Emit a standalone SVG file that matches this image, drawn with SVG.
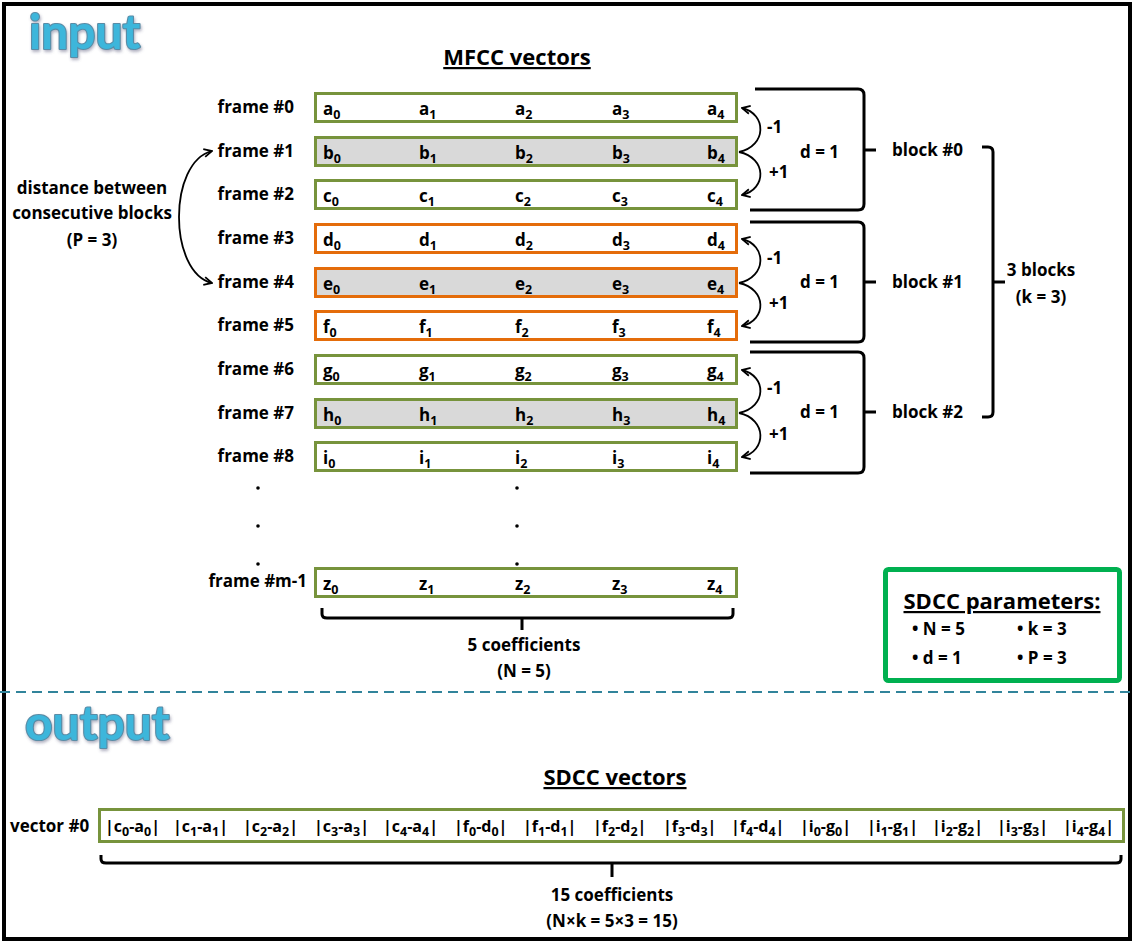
<svg xmlns="http://www.w3.org/2000/svg" width="1134" height="945" viewBox="0 0 1134 945">
<style>
text{font-family:"Open Sans","Noto Sans","Liberation Sans",sans-serif;font-weight:bold;fill:#000}
.lbl{font-size:17px}
.vec{font-size:16px}
.cell{font-size:17px}
.sub{font-size:12.5px}
.title{font-size:22px;text-decoration:underline}
.big{font-family:Lato,"Open Sans",sans-serif;font-size:48px;fill:#3DB6DB;stroke:#5A8CA6;stroke-width:2.2;paint-order:stroke;stroke-linejoin:round}
.g{fill:#fff;stroke:#77933C;stroke-width:3}
.o{fill:#fff;stroke:#E46C0A;stroke-width:3}
.gray{fill:#D9D9D9}
.br{fill:none;stroke:#000;stroke-width:3;stroke-linejoin:round}
.arr{fill:none;stroke:#000;stroke-width:1.8}
</style>
<defs>
<marker id="chev" viewBox="0 0 10 10" refX="9" refY="5" markerWidth="10" markerHeight="10" markerUnits="userSpaceOnUse" orient="auto-start-reverse">
<path d="M1,1 L9,5 L1,9" fill="none" stroke="#000" stroke-width="1.8"/>
</marker>
<filter id="sh" x="-10%" y="-10%" width="130%" height="140%"><feDropShadow dx="1" dy="2" stdDeviation="1.5" flood-color="#557" flood-opacity="0.45"/></filter>
</defs>
<rect x="0" y="0" width="1134" height="945" fill="#fff"/>
<rect x="4" y="4" width="1126" height="935" fill="none" stroke="#000" stroke-width="4"/>

<g id="titles">
<text class="big" x="29" y="49" filter="url(#sh)">input</text>
<text class="big" x="25" y="740" filter="url(#sh)">output</text>
<text class="title" x="517" y="65" text-anchor="middle">MFCC vectors</text>
<text class="title" x="615" y="785" text-anchor="middle">SDCC vectors</text>
</g>

<g id="frame0"><text class="lbl" x="294" y="113" text-anchor="end">frame #0</text><rect class="g" x="315.5" y="93.5" width="421" height="28"/>
<text class="cell" x="323" y="115">a<tspan class="sub" dy="4">0</tspan></text><text class="cell" x="419" y="115">a<tspan class="sub" dy="4">1</tspan></text><text class="cell" x="515" y="115">a<tspan class="sub" dy="4">2</tspan></text><text class="cell" x="612" y="115">a<tspan class="sub" dy="4">3</tspan></text><text class="cell" x="707" y="115">a<tspan class="sub" dy="4">4</tspan></text></g>
<g id="frame1"><text class="lbl" x="294" y="157" text-anchor="end">frame #1</text><rect class="g gray" x="315.5" y="137.5" width="421" height="28"/>
<text class="cell" x="323" y="159">b<tspan class="sub" dy="4">0</tspan></text><text class="cell" x="419" y="159">b<tspan class="sub" dy="4">1</tspan></text><text class="cell" x="515" y="159">b<tspan class="sub" dy="4">2</tspan></text><text class="cell" x="612" y="159">b<tspan class="sub" dy="4">3</tspan></text><text class="cell" x="707" y="159">b<tspan class="sub" dy="4">4</tspan></text></g>
<g id="frame2"><text class="lbl" x="294" y="200" text-anchor="end">frame #2</text><rect class="g" x="315.5" y="180.5" width="421" height="28"/>
<text class="cell" x="323" y="202">c<tspan class="sub" dy="4">0</tspan></text><text class="cell" x="419" y="202">c<tspan class="sub" dy="4">1</tspan></text><text class="cell" x="515" y="202">c<tspan class="sub" dy="4">2</tspan></text><text class="cell" x="612" y="202">c<tspan class="sub" dy="4">3</tspan></text><text class="cell" x="707" y="202">c<tspan class="sub" dy="4">4</tspan></text></g>
<g id="frame3"><text class="lbl" x="294" y="244" text-anchor="end">frame #3</text><rect class="o" x="315.5" y="224.5" width="421" height="28"/>
<text class="cell" x="323" y="246">d<tspan class="sub" dy="4">0</tspan></text><text class="cell" x="419" y="246">d<tspan class="sub" dy="4">1</tspan></text><text class="cell" x="515" y="246">d<tspan class="sub" dy="4">2</tspan></text><text class="cell" x="612" y="246">d<tspan class="sub" dy="4">3</tspan></text><text class="cell" x="707" y="246">d<tspan class="sub" dy="4">4</tspan></text></g>
<g id="frame4"><text class="lbl" x="294" y="288" text-anchor="end">frame #4</text><rect class="o gray" x="315.5" y="268.5" width="421" height="28"/>
<text class="cell" x="323" y="290">e<tspan class="sub" dy="4">0</tspan></text><text class="cell" x="419" y="290">e<tspan class="sub" dy="4">1</tspan></text><text class="cell" x="515" y="290">e<tspan class="sub" dy="4">2</tspan></text><text class="cell" x="612" y="290">e<tspan class="sub" dy="4">3</tspan></text><text class="cell" x="707" y="290">e<tspan class="sub" dy="4">4</tspan></text></g>
<g id="frame5"><text class="lbl" x="294" y="331" text-anchor="end">frame #5</text><rect class="o" x="315.5" y="311.5" width="421" height="28"/>
<text class="cell" x="323" y="333">f<tspan class="sub" dy="4">0</tspan></text><text class="cell" x="419" y="333">f<tspan class="sub" dy="4">1</tspan></text><text class="cell" x="515" y="333">f<tspan class="sub" dy="4">2</tspan></text><text class="cell" x="612" y="333">f<tspan class="sub" dy="4">3</tspan></text><text class="cell" x="707" y="333">f<tspan class="sub" dy="4">4</tspan></text></g>
<g id="frame6"><text class="lbl" x="294" y="375" text-anchor="end">frame #6</text><rect class="g" x="315.5" y="355.5" width="421" height="28"/>
<text class="cell" x="323" y="377">g<tspan class="sub" dy="4">0</tspan></text><text class="cell" x="419" y="377">g<tspan class="sub" dy="4">1</tspan></text><text class="cell" x="515" y="377">g<tspan class="sub" dy="4">2</tspan></text><text class="cell" x="612" y="377">g<tspan class="sub" dy="4">3</tspan></text><text class="cell" x="707" y="377">g<tspan class="sub" dy="4">4</tspan></text></g>
<g id="frame7"><text class="lbl" x="294" y="419" text-anchor="end">frame #7</text><rect class="g gray" x="315.5" y="399.5" width="421" height="28"/>
<text class="cell" x="323" y="421">h<tspan class="sub" dy="4">0</tspan></text><text class="cell" x="419" y="421">h<tspan class="sub" dy="4">1</tspan></text><text class="cell" x="515" y="421">h<tspan class="sub" dy="4">2</tspan></text><text class="cell" x="612" y="421">h<tspan class="sub" dy="4">3</tspan></text><text class="cell" x="707" y="421">h<tspan class="sub" dy="4">4</tspan></text></g>
<g id="frame8"><text class="lbl" x="294" y="462" text-anchor="end">frame #8</text><rect class="g" x="315.5" y="442.5" width="421" height="28"/>
<text class="cell" x="323" y="464">i<tspan class="sub" dy="4">0</tspan></text><text class="cell" x="419" y="464">i<tspan class="sub" dy="4">1</tspan></text><text class="cell" x="515" y="464">i<tspan class="sub" dy="4">2</tspan></text><text class="cell" x="612" y="464">i<tspan class="sub" dy="4">3</tspan></text><text class="cell" x="707" y="464">i<tspan class="sub" dy="4">4</tspan></text></g>
<g id="dots">
<circle cx="258" cy="488" r="1.8"/><circle cx="258" cy="526" r="1.8"/><circle cx="258" cy="564" r="1.8"/>
<circle cx="517" cy="488" r="1.8"/><circle cx="517" cy="526" r="1.8"/><circle cx="517" cy="564" r="1.8"/>
</g>
<g id="framem1"><text class="lbl" x="307" y="587" text-anchor="end">frame #m-1</text><rect class="g" x="315.5" y="568.5" width="421" height="28"/>
<text class="cell" x="323" y="590">z<tspan class="sub" dy="4">0</tspan></text><text class="cell" x="419" y="590">z<tspan class="sub" dy="4">1</tspan></text><text class="cell" x="515" y="590">z<tspan class="sub" dy="4">2</tspan></text><text class="cell" x="612" y="590">z<tspan class="sub" dy="4">3</tspan></text><text class="cell" x="707" y="590">z<tspan class="sub" dy="4">4</tspan></text></g>

<g id="connectors">
<path class="arr" d="M739,152 C767,146 767,114 742,108" marker-end="url(#chev)"/>
<path class="arr" d="M739,152 C767,158 767,189 742,195" marker-end="url(#chev)"/>
<path class="arr" d="M739,283 C767,277 767,245 742,239" marker-end="url(#chev)"/>
<path class="arr" d="M739,283 C767,289 767,320 742,326" marker-end="url(#chev)"/>
<path class="arr" d="M739,413 C767,407 767,376 742,370" marker-end="url(#chev)"/>
<path class="arr" d="M739,413 C767,419 767,451 742,457" marker-end="url(#chev)"/>
<path class="arr" d="M212,151 C168,162 168,272 212,283" marker-start="url(#chev)" marker-end="url(#chev)"/>
<path class="br" d="M755,89 H858 Q864,89 864,95 V204 Q864,210 858,210 H750 M864,150 H876"/>
<path class="br" d="M750,222 H858 Q864,222 864,228 V336 Q864,342 858,342 H750 M864,282 H876"/>
<path class="br" d="M750,352 H858 Q864,352 864,358 V467 Q864,473 858,473 H750 M864,412 H876"/>
<path class="br" d="M982,147 H988 Q993,147 993,152 V412 Q993,417 988,417 H982 M993,282 H1005"/>
<path class="br" d="M322,608 V614 Q322,618 327,618 H728 Q733,618 733,614 V608 M522,618 V630"/>
<path class="br" d="M101,855 V859 Q101,863 106,863 H1116 Q1121,863 1121,859 V855 M612,863 V877"/>
</g>

<g id="block-labels">
<text class="lbl" x="767" y="133">-1</text><text class="lbl" x="769" y="178">+1</text><text class="lbl" x="800" y="158">d = 1</text><text class="lbl" x="892" y="156">block #0</text>
<text class="lbl" x="767" y="264">-1</text><text class="lbl" x="769" y="309">+1</text><text class="lbl" x="800" y="288">d = 1</text><text class="lbl" x="892" y="288">block #1</text>
<text class="lbl" x="767" y="394">-1</text><text class="lbl" x="769" y="440">+1</text><text class="lbl" x="800" y="418">d = 1</text><text class="lbl" x="892" y="418">block #2</text>
<text class="lbl" x="1041" y="276" text-anchor="middle">3 blocks</text><text class="lbl" x="1041" y="303" text-anchor="middle">(k = 3)</text>
</g>
<g id="distance-label">
<text class="lbl" x="92" y="194" text-anchor="middle">distance between</text>
<text class="lbl" x="92" y="219" text-anchor="middle">consecutive blocks</text>
<text class="lbl" x="92" y="246" text-anchor="middle">(P = 3)</text>
</g>
<g id="n-label">
<text class="lbl" x="524" y="651" text-anchor="middle">5 coefficients</text>
<text class="lbl" x="524" y="677" text-anchor="middle">(N = 5)</text>
</g>

<g id="params">
<rect x="885.5" y="569.5" width="234" height="111" rx="3" fill="#fff" stroke="#00B050" stroke-width="5"/>
<text class="title" x="1002" y="609" text-anchor="middle">SDCC parameters:</text>
<text class="lbl" x="912" y="635" font-size="18">• N = 5</text>
<text class="lbl" x="1017" y="635" font-size="18">• k = 3</text>
<text class="lbl" x="912" y="664" font-size="18">• d = 1</text>
<text class="lbl" x="1017" y="664" font-size="18">• P = 3</text>
</g>

<line x1="0" y1="692" x2="1134" y2="692" stroke="#31849B" stroke-width="2" stroke-dasharray="10,6"/>

<g id="vector0">
<text class="lbl" x="10" y="832">vector #0</text>
<rect class="g" x="99.5" y="809.5" width="1024" height="32"/>
<text class="vec" y="832"><tspan x="105">|c</tspan><tspan class="sub" dy="4">0</tspan><tspan dy="-4">-a</tspan><tspan class="sub" dy="4">0</tspan><tspan dy="-4">|</tspan></text>
<text class="vec" y="832"><tspan x="173">|c</tspan><tspan class="sub" dy="4">1</tspan><tspan dy="-4">-a</tspan><tspan class="sub" dy="4">1</tspan><tspan dy="-4">|</tspan></text>
<text class="vec" y="832"><tspan x="243">|c</tspan><tspan class="sub" dy="4">2</tspan><tspan dy="-4">-a</tspan><tspan class="sub" dy="4">2</tspan><tspan dy="-4">|</tspan></text>
<text class="vec" y="832"><tspan x="314">|c</tspan><tspan class="sub" dy="4">3</tspan><tspan dy="-4">-a</tspan><tspan class="sub" dy="4">3</tspan><tspan dy="-4">|</tspan></text>
<text class="vec" y="832"><tspan x="383">|c</tspan><tspan class="sub" dy="4">4</tspan><tspan dy="-4">-a</tspan><tspan class="sub" dy="4">4</tspan><tspan dy="-4">|</tspan></text>
<text class="vec" y="832"><tspan x="454">|f</tspan><tspan class="sub" dy="4">0</tspan><tspan dy="-4">-d</tspan><tspan class="sub" dy="4">0</tspan><tspan dy="-4">|</tspan></text>
<text class="vec" y="832"><tspan x="523">|f</tspan><tspan class="sub" dy="4">1</tspan><tspan dy="-4">-d</tspan><tspan class="sub" dy="4">1</tspan><tspan dy="-4">|</tspan></text>
<text class="vec" y="832"><tspan x="593">|f</tspan><tspan class="sub" dy="4">2</tspan><tspan dy="-4">-d</tspan><tspan class="sub" dy="4">2</tspan><tspan dy="-4">|</tspan></text>
<text class="vec" y="832"><tspan x="663">|f</tspan><tspan class="sub" dy="4">3</tspan><tspan dy="-4">-d</tspan><tspan class="sub" dy="4">3</tspan><tspan dy="-4">|</tspan></text>
<text class="vec" y="832"><tspan x="731">|f</tspan><tspan class="sub" dy="4">4</tspan><tspan dy="-4">-d</tspan><tspan class="sub" dy="4">4</tspan><tspan dy="-4">|</tspan></text>
<text class="vec" y="832"><tspan x="800">|i</tspan><tspan class="sub" dy="4">0</tspan><tspan dy="-4">-g</tspan><tspan class="sub" dy="4">0</tspan><tspan dy="-4">|</tspan></text>
<text class="vec" y="832"><tspan x="867">|i</tspan><tspan class="sub" dy="4">1</tspan><tspan dy="-4">-g</tspan><tspan class="sub" dy="4">1</tspan><tspan dy="-4">|</tspan></text>
<text class="vec" y="832"><tspan x="932">|i</tspan><tspan class="sub" dy="4">2</tspan><tspan dy="-4">-g</tspan><tspan class="sub" dy="4">2</tspan><tspan dy="-4">|</tspan></text>
<text class="vec" y="832"><tspan x="997">|i</tspan><tspan class="sub" dy="4">3</tspan><tspan dy="-4">-g</tspan><tspan class="sub" dy="4">3</tspan><tspan dy="-4">|</tspan></text>
<text class="vec" y="832"><tspan x="1063">|i</tspan><tspan class="sub" dy="4">4</tspan><tspan dy="-4">-g</tspan><tspan class="sub" dy="4">4</tspan><tspan dy="-4">|</tspan></text>
</g>
<g id="k-label">
<text class="lbl" x="612" y="901" text-anchor="middle">15 coefficients</text>
<text class="lbl" x="612" y="927" text-anchor="middle">(N×k = 5×3 = 15)</text>
</g>
</svg>
